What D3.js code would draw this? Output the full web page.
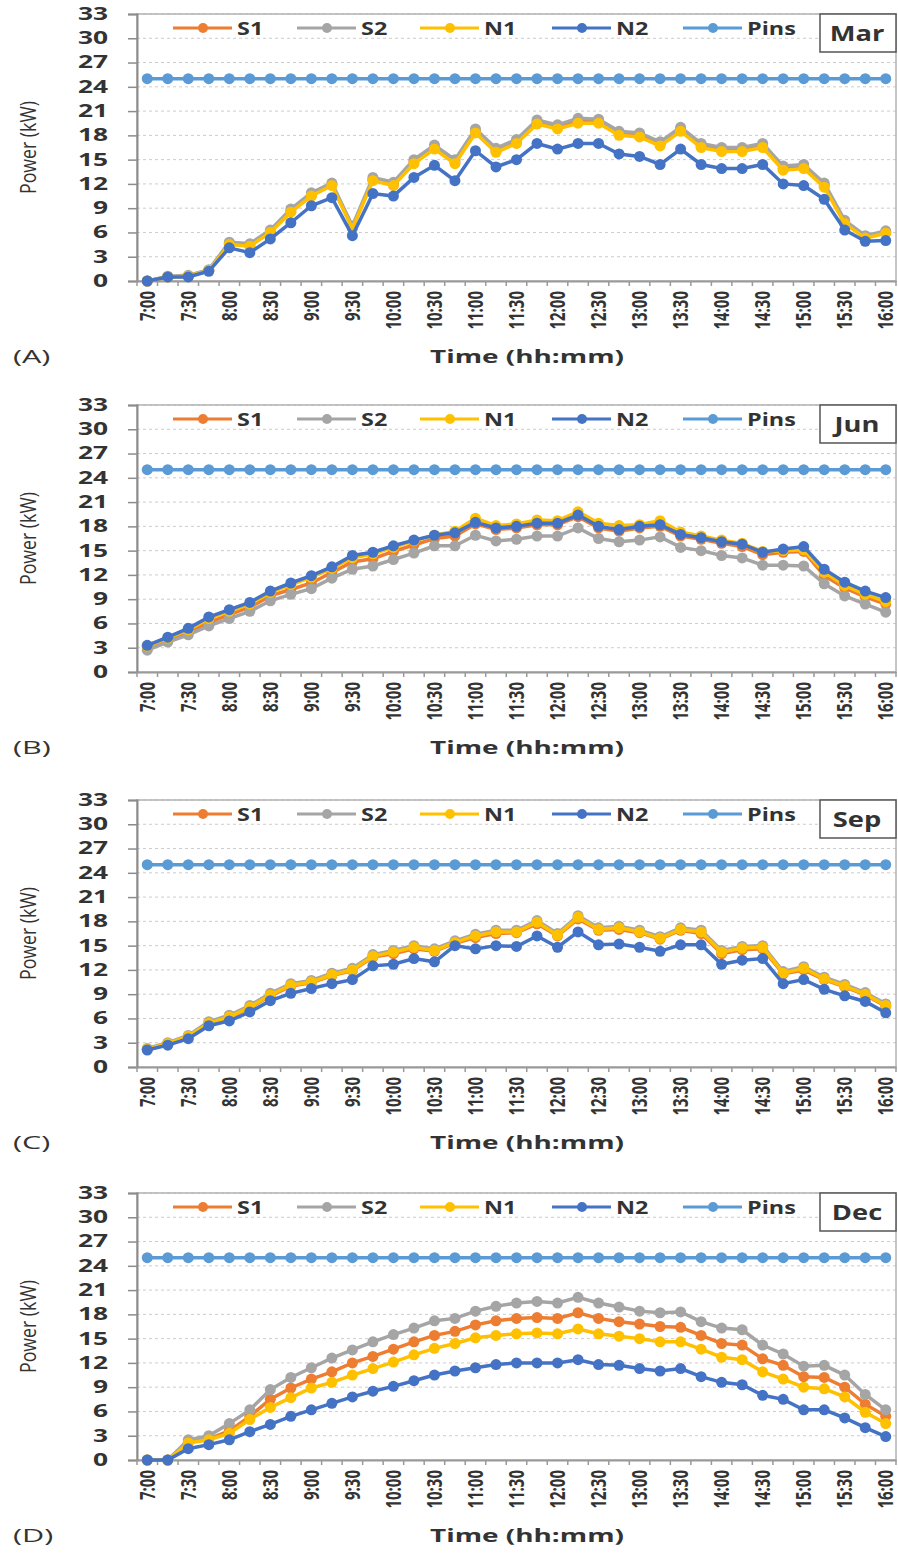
<!DOCTYPE html>
<html>
<head>
<meta charset="utf-8">
<script src="https://cdn.jsdelivr.net/npm/d3@7"></script>
<style>
body { margin: 0; background: #fff; }
text { font-family: "Open Sans", sans-serif; fill: #333; }
</style>
</head>
<body>
<div class="chart"></div>
<script>
// ---------------- data ----------------
var times = ["7:00","7:15","7:30","7:45","8:00","8:15","8:30","8:45","9:00","9:15","9:30","9:45",
  "10:00","10:15","10:30","10:45","11:00","11:15","11:30","11:45","12:00","12:15","12:30","12:45",
  "13:00","13:15","13:30","13:45","14:00","14:15","14:30","14:45","15:00","15:15","15:30","15:45","16:00"];
var yTicks = [0, 3, 6, 9, 12, 15, 18, 21, 24, 27, 30, 33];
var seriesNames = ["S1", "S2", "N1", "N2", "Pins"];
var months = ["Mar", "Jun", "Sep", "Dec"];
var panelLabels = ["(A)", "(B)", "(C)", "(D)"];

var pins = [25,25,25,25,25,25,25,25,25,25,25,25,25,25,25,25,25,25,25,25,25,25,25,25,25,25,25,25,25,25,25,25,25,25,25,25,25];

var marS1 = [0,0.5,0.6,1.3,4.6,4.4,6.1,8.6,10.6,11.9,6.6,12.5,12.0,14.7,16.5,14.7,18.5,16.1,17.2,19.6,19.0,19.7,19.7,18.2,18.0,16.9,18.7,16.7,16.2,16.2,16.7,13.9,14.1,11.8,7.2,5.4,6.0];
var marS2 = [0,0.6,0.7,1.4,4.8,4.6,6.3,8.9,10.9,12.1,6.8,12.8,12.2,15.0,16.8,15.0,18.8,16.4,17.5,19.9,19.3,20.1,20.0,18.5,18.3,17.2,19.0,17.0,16.5,16.5,17.0,14.2,14.4,12.1,7.5,5.6,6.2];
var marN1 = [0,0.5,0.6,1.3,4.5,4.3,6.0,8.5,10.5,11.8,6.5,12.4,11.8,14.5,16.3,14.5,18.3,15.9,17.0,19.4,18.8,19.5,19.5,18.0,17.8,16.7,18.5,16.5,16.0,16.0,16.5,13.7,13.9,11.6,7.1,5.3,5.9];
var marN2 = [0,0.5,0.5,1.2,4.1,3.5,5.2,7.2,9.3,10.3,5.6,10.8,10.5,12.8,14.3,12.4,16.1,14.1,15.0,17.0,16.3,17.0,17.0,15.7,15.4,14.4,16.3,14.4,13.9,13.9,14.4,12.0,11.8,10.1,6.3,4.9,5.0];

var junS1 = [3.0,3.9,4.9,6.1,7.1,8.0,9.4,10.2,11.0,12.3,13.6,14.0,14.9,15.7,16.5,16.8,18.3,17.6,17.8,18.2,18.2,19.2,17.8,17.4,17.8,18.0,16.8,16.4,15.9,15.5,14.5,14.8,14.9,11.9,10.4,9.3,8.4];
var junS2 = [2.7,3.7,4.6,5.7,6.6,7.5,8.8,9.6,10.3,11.6,12.7,13.1,13.9,14.7,15.6,15.6,16.9,16.2,16.4,16.8,16.8,17.8,16.5,16.1,16.3,16.7,15.4,15.0,14.4,14.1,13.2,13.2,13.1,10.9,9.4,8.4,7.4];
var junN1 = [3.2,4.2,5.2,6.6,7.5,8.4,9.8,10.8,11.7,12.8,14.1,14.6,15.4,16.2,16.9,17.4,19.0,18.1,18.3,18.8,18.7,19.8,18.4,18.1,18.2,18.7,17.3,16.8,16.3,15.9,14.9,15.0,15.1,12.3,10.7,9.6,8.7];
var junN2 = [3.3,4.3,5.4,6.8,7.7,8.6,10.0,11.0,11.9,13.0,14.4,14.8,15.6,16.3,16.9,17.2,18.5,17.8,18.0,18.4,18.4,19.4,18.0,17.6,18.0,18.2,17.0,16.6,16.1,15.8,14.8,15.2,15.5,12.7,11.1,10.0,9.2];

var sepS1 = [2.2,2.8,3.7,5.3,6.1,7.3,8.8,10.0,10.4,11.3,11.9,13.6,14.0,14.6,14.3,15.3,16.0,16.5,16.6,17.7,16.2,18.3,16.9,17.0,16.6,15.8,16.9,16.5,14.0,14.5,14.6,11.5,12.0,10.8,9.9,8.9,7.5];
var sepS2 = [2.3,3.0,3.9,5.6,6.4,7.6,9.1,10.3,10.7,11.6,12.2,13.9,14.4,15.0,14.6,15.6,16.4,16.9,16.9,18.1,16.5,18.7,17.2,17.4,16.9,16.1,17.2,16.9,14.4,14.9,15.0,11.8,12.4,11.1,10.2,9.2,7.8];
var sepN1 = [2.2,2.9,3.8,5.4,6.2,7.4,8.9,10.1,10.5,11.4,12.0,13.7,14.2,14.8,14.4,15.4,16.2,16.7,16.7,17.9,16.3,18.5,17.0,17.2,16.7,15.9,17.0,16.7,14.2,14.7,14.8,11.6,12.2,10.9,10.0,9.0,7.6];
var sepN2 = [2.1,2.7,3.5,5.1,5.7,6.8,8.2,9.1,9.7,10.3,10.8,12.5,12.7,13.4,13.0,15.0,14.6,15.0,14.9,16.2,14.8,16.7,15.1,15.2,14.8,14.3,15.1,15.1,12.7,13.2,13.4,10.3,10.8,9.6,8.8,8.1,6.7];

var decS1 = [0,0,2.2,2.6,3.6,5.4,7.5,8.9,10.0,10.9,12.0,12.8,13.7,14.6,15.4,15.9,16.7,17.2,17.5,17.6,17.5,18.2,17.5,17.1,16.8,16.5,16.4,15.4,14.4,14.2,12.5,11.7,10.3,10.2,9.0,6.9,5.4];
var decS2 = [0,0,2.5,3.0,4.5,6.2,8.7,10.2,11.4,12.6,13.6,14.6,15.5,16.3,17.2,17.5,18.4,19.0,19.4,19.6,19.4,20.1,19.4,18.9,18.4,18.2,18.3,17.1,16.3,16.1,14.2,13.1,11.6,11.7,10.5,8.1,6.2];
var decN1 = [0,0,2.1,2.5,3.3,5.0,6.5,7.7,8.9,9.6,10.5,11.3,12.1,13.0,13.8,14.4,15.1,15.4,15.6,15.7,15.6,16.2,15.6,15.3,15.0,14.6,14.6,13.7,12.7,12.4,10.9,10.0,9.0,8.8,7.8,5.9,4.5];
var decN2 = [0,0,1.4,1.9,2.5,3.5,4.4,5.4,6.2,7.0,7.8,8.5,9.1,9.8,10.5,11.0,11.4,11.8,12.0,12.0,12.0,12.4,11.8,11.7,11.3,11.0,11.3,10.3,9.6,9.3,8.0,7.5,6.2,6.2,5.2,4.0,2.9];

var panelSeries = [
  [marS1, marS2, marN1, marN2, pins],
  [junS1, junS2, junN1, junN2, pins],
  [sepS1, sepS2, sepN1, sepN2, pins],
  [decS1, decS2, decN1, decN2, pins]
];

// ---------------- layout / style ----------------
var svgWidth = 898;
var svgHeight = 1553;
var plotLeft = 137, plotRight = 896;
var plotH = 267;
var panelTops = [14, 405, 800, 1193];
var colors = ["#ED7D31", "#A5A5A5", "#FFC000", "#4472C4", "#5B9BD5"];
var legendX = [173, 297, 420, 552, 683];

var svg = d3.select(".chart")
  .append("svg")
  .attr("width", svgWidth)
  .attr("height", svgHeight);

var x = d3.scaleBand()
  .domain(times)
  .range([plotLeft, plotRight])
  .padding(0);
var y = d3.scaleLinear().domain([0, 33]).range([plotH, 0]);
var cx = (d, i) => x(times[i]) + x.bandwidth() / 2;

// stretched text helper (the original text is wide)
function wideText(parent, px, py, str, size, sx, anchor, weight) {
  return parent.append("text")
    .attr("transform", `translate(${px},${py}) scale(${sx},1)`)
    .attr("text-anchor", anchor)
    .attr("font-size", size)
    .attr("font-weight", weight)
    .text(str);
}

panelTops.forEach(function(top, p) {
  var g = svg.append("g").attr("transform", `translate(0,${top})`);

  // grid lines
  g.selectAll(".grid")
    .data(yTicks.filter(v => v > 0))
    .join("line")
    .attr("x1", plotLeft).attr("x2", plotRight)
    .attr("y1", d => y(d)).attr("y2", d => y(d))
    .attr("stroke", "#cccccc")
    .attr("stroke-width", 1)
    .attr("stroke-dasharray", "3,3");

  // plot frame
  g.append("rect")
    .attr("x", plotLeft).attr("y", 0)
    .attr("width", plotRight - plotLeft).attr("height", plotH)
    .attr("fill", "none")
    .attr("stroke", "#b3b3b3")
    .attr("stroke-width", 1.5);

  // y axis
  var yAxis = g.append("g")
    .attr("transform", `translate(${plotLeft},0)`)
    .call(d3.axisLeft(y).tickValues(yTicks).tickSize(9));
  yAxis.select(".domain").attr("stroke", "#8c8c8c").attr("stroke-width", 2);
  yAxis.selectAll(".tick line").attr("stroke", "#8c8c8c").attr("stroke-width", 1.5);
  yAxis.selectAll(".tick text")
    .attr("x", 0)
    .attr("transform", "translate(-29,0) scale(1.55,1)")
    .attr("font-size", 17)
    .attr("font-weight", "bold")
    .attr("font-family", "Open Sans, sans-serif")
    .attr("fill", "#333");

  // x axis (labels every 30 min, ticks between categories)
  var xAxis = g.append("g")
    .attr("transform", `translate(0,${plotH})`)
    .call(d3.axisBottom(x).tickValues(times.filter((d, i) => i % 2 === 0)).tickSize(0));
  xAxis.select(".domain").attr("stroke", "#9a9a9a").attr("stroke-width", 2);
  xAxis.selectAll(".tick text")
    .attr("x", -10)
    .attr("y", 0)
    .attr("dy", "0.35em")
    .attr("text-anchor", "end")
    .attr("transform", "rotate(-90) scale(1,1.4)")
    .attr("font-size", 15)
    .attr("font-weight", "bold")
    .attr("font-family", "Open Sans, sans-serif")
    .attr("fill", "#333");
  var bounds = times.map(d => x(d)).concat([x.range()[1]]);
  xAxis.selectAll(".bound")
    .data(bounds)
    .join("line")
    .attr("x1", d => d).attr("x2", d => d)
    .attr("y1", 0).attr("y2", 5)
    .attr("stroke", "#9a9a9a")
    .attr("stroke-width", 1.5);

  // series
  var line = d3.line().x(cx).y(d => y(d));
  panelSeries[p].forEach(function(vals, s) {
    g.append("path")
      .datum(vals)
      .attr("d", line)
      .attr("fill", "none")
      .attr("stroke", colors[s])
      .attr("stroke-width", 3.5);
    g.selectAll(".m" + s)
      .data(vals)
      .join("circle")
      .attr("cx", cx)
      .attr("cy", d => y(d))
      .attr("r", 5.5)
      .attr("fill", colors[s]);
  });

  // legend
  seriesNames.forEach(function(name, s) {
    var lx = legendX[s];
    g.append("line")
      .attr("x1", lx).attr("x2", lx + 59)
      .attr("y1", 14).attr("y2", 14)
      .attr("stroke", colors[s]).attr("stroke-width", 3);
    g.append("circle")
      .attr("cx", lx + 30).attr("cy", 14).attr("r", 5)
      .attr("fill", colors[s]);
    wideText(g, lx + 64, 21, name, 18, 1.3, "start", "bold");
  });

  // month box
  g.append("rect")
    .attr("x", 820).attr("y", 0)
    .attr("width", plotRight - 820).attr("height", 38)
    .attr("fill", "#fff")
    .attr("stroke", "#555")
    .attr("stroke-width", 1.5);
  wideText(g, 857, 27, months[p], 21, 1.3, "middle", "bold");

  // axis titles
  wideText(g, 527, plotH + 82, "Time (hh:mm)", 18, 1.55, "middle", "bold");
  wideText(g, 13, plotH + 82, panelLabels[p], 18, 1.7, "start", "normal");
  g.append("text")
    .attr("transform", `translate(36,${plotH / 2}) rotate(-90)`)
    .attr("text-anchor", "middle")
    .attr("font-size", 22)
    .attr("textLength", 93)
    .attr("lengthAdjust", "spacingAndGlyphs")
    .text("Power (kW)");
});
</script>
</body>
</html>
